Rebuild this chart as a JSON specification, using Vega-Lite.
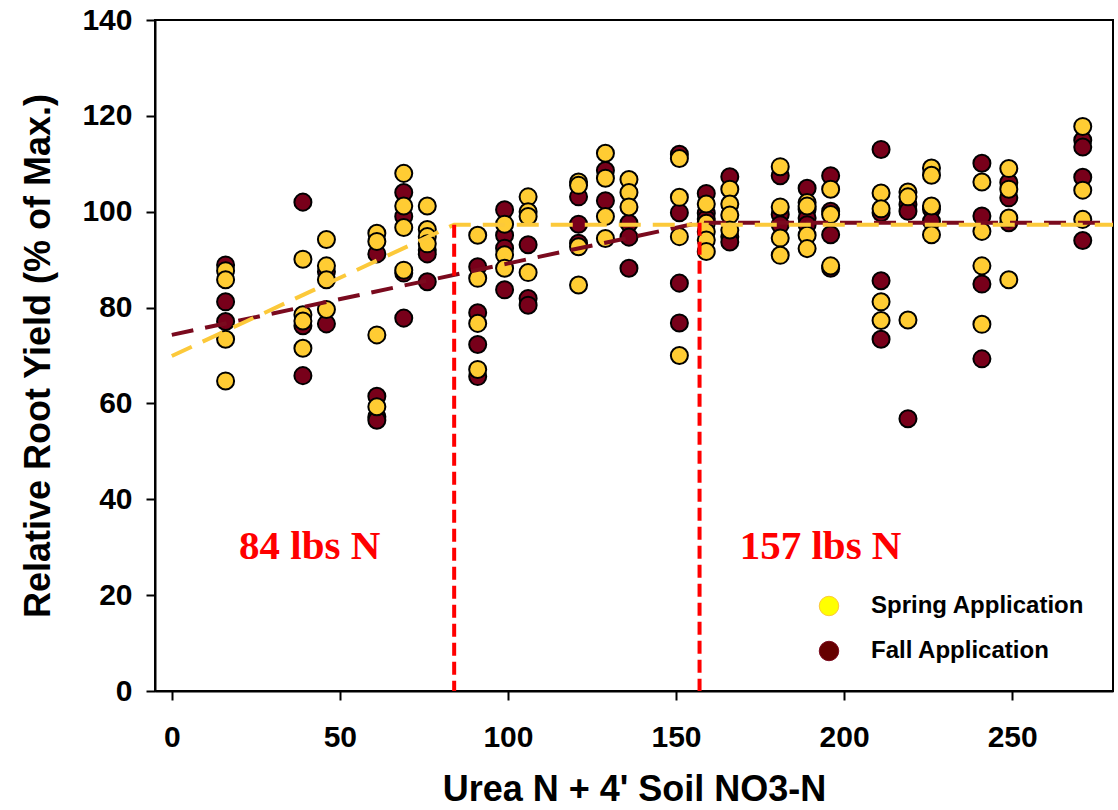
{
  "$schema": "https://vega.github.io/schema/vega-lite/v6.json",
  "width": 958,
  "height": 671,
  "autosize": {"type": "none"},
  "padding": {"left": 155, "top": 20, "right": 5, "bottom": 119},
  "background": "white",
  "datasets": {
    "points": [
      {"n": 16, "yield": 88.9, "app": "Fall Application"},
      {"n": 16, "yield": 81.2, "app": "Fall Application"},
      {"n": 16, "yield": 77.1, "app": "Fall Application"},
      {"n": 39, "yield": 102, "app": "Fall Application"},
      {"n": 39, "yield": 76.2, "app": "Fall Application"},
      {"n": 39, "yield": 65.8, "app": "Fall Application"},
      {"n": 46, "yield": 87.5, "app": "Fall Application"},
      {"n": 46, "yield": 76.6, "app": "Fall Application"},
      {"n": 61, "yield": 91.2, "app": "Fall Application"},
      {"n": 61, "yield": 61.5, "app": "Fall Application"},
      {"n": 61, "yield": 57.2, "app": "Fall Application"},
      {"n": 61, "yield": 56.5, "app": "Fall Application"},
      {"n": 69, "yield": 104, "app": "Fall Application"},
      {"n": 69, "yield": 99, "app": "Fall Application"},
      {"n": 69, "yield": 87.2, "app": "Fall Application"},
      {"n": 69, "yield": 77.8, "app": "Fall Application"},
      {"n": 76, "yield": 92, "app": "Fall Application"},
      {"n": 76, "yield": 91.2, "app": "Fall Application"},
      {"n": 76, "yield": 85.4, "app": "Fall Application"},
      {"n": 91, "yield": 88.5, "app": "Fall Application"},
      {"n": 91, "yield": 78.9, "app": "Fall Application"},
      {"n": 91, "yield": 72.3, "app": "Fall Application"},
      {"n": 91, "yield": 65.6, "app": "Fall Application"},
      {"n": 99, "yield": 100.4, "app": "Fall Application"},
      {"n": 99, "yield": 95.1, "app": "Fall Application"},
      {"n": 99, "yield": 92.4, "app": "Fall Application"},
      {"n": 99, "yield": 83.7, "app": "Fall Application"},
      {"n": 106, "yield": 93.1, "app": "Fall Application"},
      {"n": 106, "yield": 81.9, "app": "Fall Application"},
      {"n": 106, "yield": 80.5, "app": "Fall Application"},
      {"n": 121, "yield": 103.1, "app": "Fall Application"},
      {"n": 121, "yield": 97.4, "app": "Fall Application"},
      {"n": 121, "yield": 93.4, "app": "Fall Application"},
      {"n": 129, "yield": 108.6, "app": "Fall Application"},
      {"n": 129, "yield": 102.3, "app": "Fall Application"},
      {"n": 136, "yield": 97.6, "app": "Fall Application"},
      {"n": 136, "yield": 94.7, "app": "Fall Application"},
      {"n": 136, "yield": 88.2, "app": "Fall Application"},
      {"n": 151, "yield": 112, "app": "Fall Application"},
      {"n": 151, "yield": 99.8, "app": "Fall Application"},
      {"n": 151, "yield": 85.1, "app": "Fall Application"},
      {"n": 151, "yield": 76.8, "app": "Fall Application"},
      {"n": 159, "yield": 103.8, "app": "Fall Application"},
      {"n": 159, "yield": 99.7, "app": "Fall Application"},
      {"n": 159, "yield": 98.5, "app": "Fall Application"},
      {"n": 166, "yield": 107.3, "app": "Fall Application"},
      {"n": 166, "yield": 94.8, "app": "Fall Application"},
      {"n": 166, "yield": 93.7, "app": "Fall Application"},
      {"n": 181, "yield": 107.5, "app": "Fall Application"},
      {"n": 181, "yield": 99.4, "app": "Fall Application"},
      {"n": 181, "yield": 97.3, "app": "Fall Application"},
      {"n": 189, "yield": 104.9, "app": "Fall Application"},
      {"n": 189, "yield": 100.5, "app": "Fall Application"},
      {"n": 189, "yield": 98.7, "app": "Fall Application"},
      {"n": 189, "yield": 97.3, "app": "Fall Application"},
      {"n": 196, "yield": 107.5, "app": "Fall Application"},
      {"n": 196, "yield": 100.1, "app": "Fall Application"},
      {"n": 196, "yield": 95.2, "app": "Fall Application"},
      {"n": 196, "yield": 88.2, "app": "Fall Application"},
      {"n": 211, "yield": 113, "app": "Fall Application"},
      {"n": 211, "yield": 99.8, "app": "Fall Application"},
      {"n": 211, "yield": 85.6, "app": "Fall Application"},
      {"n": 211, "yield": 73.4, "app": "Fall Application"},
      {"n": 219, "yield": 101.5, "app": "Fall Application"},
      {"n": 219, "yield": 100.1, "app": "Fall Application"},
      {"n": 219, "yield": 56.8, "app": "Fall Application"},
      {"n": 226, "yield": 100.5, "app": "Fall Application"},
      {"n": 226, "yield": 98, "app": "Fall Application"},
      {"n": 241, "yield": 110.1, "app": "Fall Application"},
      {"n": 241, "yield": 99.1, "app": "Fall Application"},
      {"n": 241, "yield": 84.9, "app": "Fall Application"},
      {"n": 241, "yield": 69.3, "app": "Fall Application"},
      {"n": 249, "yield": 106.1, "app": "Fall Application"},
      {"n": 249, "yield": 102.9, "app": "Fall Application"},
      {"n": 249, "yield": 97.7, "app": "Fall Application"},
      {"n": 271, "yield": 114.9, "app": "Fall Application"},
      {"n": 271, "yield": 113.5, "app": "Fall Application"},
      {"n": 271, "yield": 107.2, "app": "Fall Application"},
      {"n": 271, "yield": 94, "app": "Fall Application"},
      {"n": 16, "yield": 87.7, "app": "Spring Application"},
      {"n": 16, "yield": 85.8, "app": "Spring Application"},
      {"n": 16, "yield": 73.4, "app": "Spring Application"},
      {"n": 16, "yield": 64.7, "app": "Spring Application"},
      {"n": 39, "yield": 90.1, "app": "Spring Application"},
      {"n": 39, "yield": 78.5, "app": "Spring Application"},
      {"n": 39, "yield": 77.2, "app": "Spring Application"},
      {"n": 39, "yield": 71.5, "app": "Spring Application"},
      {"n": 46, "yield": 94.2, "app": "Spring Application"},
      {"n": 46, "yield": 88.7, "app": "Spring Application"},
      {"n": 46, "yield": 85.8, "app": "Spring Application"},
      {"n": 46, "yield": 79.6, "app": "Spring Application"},
      {"n": 61, "yield": 95.5, "app": "Spring Application"},
      {"n": 61, "yield": 93.8, "app": "Spring Application"},
      {"n": 61, "yield": 74.3, "app": "Spring Application"},
      {"n": 61, "yield": 59.3, "app": "Spring Application"},
      {"n": 69, "yield": 108, "app": "Spring Application"},
      {"n": 69, "yield": 101.2, "app": "Spring Application"},
      {"n": 69, "yield": 96.7, "app": "Spring Application"},
      {"n": 69, "yield": 87.8, "app": "Spring Application"},
      {"n": 76, "yield": 101.2, "app": "Spring Application"},
      {"n": 76, "yield": 96.3, "app": "Spring Application"},
      {"n": 76, "yield": 94.8, "app": "Spring Application"},
      {"n": 76, "yield": 93.3, "app": "Spring Application"},
      {"n": 91, "yield": 95.1, "app": "Spring Application"},
      {"n": 91, "yield": 86.1, "app": "Spring Application"},
      {"n": 91, "yield": 76.7, "app": "Spring Application"},
      {"n": 91, "yield": 67.1, "app": "Spring Application"},
      {"n": 99, "yield": 97.4, "app": "Spring Application"},
      {"n": 99, "yield": 91, "app": "Spring Application"},
      {"n": 99, "yield": 88.2, "app": "Spring Application"},
      {"n": 106, "yield": 103.1, "app": "Spring Application"},
      {"n": 106, "yield": 100, "app": "Spring Application"},
      {"n": 106, "yield": 99, "app": "Spring Application"},
      {"n": 106, "yield": 87.3, "app": "Spring Application"},
      {"n": 121, "yield": 106.2, "app": "Spring Application"},
      {"n": 121, "yield": 105.5, "app": "Spring Application"},
      {"n": 121, "yield": 92.7, "app": "Spring Application"},
      {"n": 121, "yield": 84.7, "app": "Spring Application"},
      {"n": 129, "yield": 112.2, "app": "Spring Application"},
      {"n": 129, "yield": 107, "app": "Spring Application"},
      {"n": 129, "yield": 99, "app": "Spring Application"},
      {"n": 129, "yield": 94.4, "app": "Spring Application"},
      {"n": 136, "yield": 106.7, "app": "Spring Application"},
      {"n": 136, "yield": 104, "app": "Spring Application"},
      {"n": 136, "yield": 101, "app": "Spring Application"},
      {"n": 151, "yield": 111.1, "app": "Spring Application"},
      {"n": 151, "yield": 103, "app": "Spring Application"},
      {"n": 151, "yield": 94.8, "app": "Spring Application"},
      {"n": 151, "yield": 70, "app": "Spring Application"},
      {"n": 159, "yield": 101.6, "app": "Spring Application"},
      {"n": 159, "yield": 97.6, "app": "Spring Application"},
      {"n": 159, "yield": 95.8, "app": "Spring Application"},
      {"n": 159, "yield": 94.1, "app": "Spring Application"},
      {"n": 159, "yield": 91.7, "app": "Spring Application"},
      {"n": 166, "yield": 104.7, "app": "Spring Application"},
      {"n": 166, "yield": 101.6, "app": "Spring Application"},
      {"n": 166, "yield": 99.3, "app": "Spring Application"},
      {"n": 166, "yield": 96.2, "app": "Spring Application"},
      {"n": 181, "yield": 109.4, "app": "Spring Application"},
      {"n": 181, "yield": 101, "app": "Spring Application"},
      {"n": 181, "yield": 94.5, "app": "Spring Application"},
      {"n": 181, "yield": 90.9, "app": "Spring Application"},
      {"n": 189, "yield": 101.9, "app": "Spring Application"},
      {"n": 189, "yield": 101.2, "app": "Spring Application"},
      {"n": 189, "yield": 95.1, "app": "Spring Application"},
      {"n": 189, "yield": 92.3, "app": "Spring Application"},
      {"n": 196, "yield": 104.7, "app": "Spring Application"},
      {"n": 196, "yield": 99.4, "app": "Spring Application"},
      {"n": 196, "yield": 88.7, "app": "Spring Application"},
      {"n": 211, "yield": 103.9, "app": "Spring Application"},
      {"n": 211, "yield": 100.6, "app": "Spring Application"},
      {"n": 211, "yield": 81.2, "app": "Spring Application"},
      {"n": 211, "yield": 77.3, "app": "Spring Application"},
      {"n": 219, "yield": 104.1, "app": "Spring Application"},
      {"n": 219, "yield": 103.1, "app": "Spring Application"},
      {"n": 219, "yield": 77.4, "app": "Spring Application"},
      {"n": 226, "yield": 109.1, "app": "Spring Application"},
      {"n": 226, "yield": 107.6, "app": "Spring Application"},
      {"n": 226, "yield": 101.2, "app": "Spring Application"},
      {"n": 226, "yield": 95.2, "app": "Spring Application"},
      {"n": 241, "yield": 106.2, "app": "Spring Application"},
      {"n": 241, "yield": 95.9, "app": "Spring Application"},
      {"n": 241, "yield": 88.7, "app": "Spring Application"},
      {"n": 241, "yield": 76.5, "app": "Spring Application"},
      {"n": 249, "yield": 109, "app": "Spring Application"},
      {"n": 249, "yield": 104.7, "app": "Spring Application"},
      {"n": 249, "yield": 98.7, "app": "Spring Application"},
      {"n": 249, "yield": 85.8, "app": "Spring Application"},
      {"n": 271, "yield": 117.8, "app": "Spring Application"},
      {"n": 271, "yield": 104.5, "app": "Spring Application"},
      {"n": 271, "yield": 98.4, "app": "Spring Application"}
    ],
    "fits": [
      {"n": 0, "yield": 74.3, "app": "Fall Application"},
      {"n": 157, "yield": 97.7, "app": "Fall Application"},
      {"n": 280, "yield": 97.7, "app": "Fall Application"},
      {"n": 0, "yield": 69.9, "app": "Spring Application"},
      {"n": 84, "yield": 97.3, "app": "Spring Application"},
      {"n": 280, "yield": 97.3, "app": "Spring Application"}
    ],
    "thresholds": [
      {"n": 84, "top": 97.3},
      {"n": 157, "top": 97.7}
    ],
    "notes": [
      {"n": 41, "yield": 27.5, "label": "84 lbs N"},
      {"n": 193, "yield": 27.5, "label": "157 lbs N"}
    ]
  },
  "layer": [
    {
      "data": {"name": "points"},
      "mark": {"type": "point", "shape": "circle", "filled": true, "stroke": "black", "strokeWidth": 1, "opacity": 0},
      "encoding": {
        "x": {"field": "n", "type": "quantitative", "scale": {"domain": [-5, 280], "nice": false, "zero": false},
          "axis": {"values": [0, 50, 100, 150, 200, 250], "title": "Urea N + 4' Soil NO3-N", "labelPadding": 22, "titlePadding": 20, "labelFlush": false}},
        "y": {"field": "yield", "type": "quantitative", "scale": {"domain": [0, 140], "nice": false},
          "axis": {"values": [0, 20, 40, 60, 80, 100, 120, 140], "title": "Relative Root Yield (% of Max.)", "labelPadding": 14, "titlePadding": 24, "labelFlush": false}},
        "fill": {"field": "app", "type": "nominal",
          "scale": {"domain": ["Spring Application", "Fall Application"], "range": ["#FFFF00", "#660000"]},
          "legend": {"title": null, "orient": "none", "legendX": 662, "legendY": 574, "padding": 0,
            "symbolType": "circle", "symbolSize": 380, "symbolStrokeColor": "black", "symbolStrokeWidth": 1, "symbolOpacity": 1,
            "labelFont": "Liberation Sans", "labelFontWeight": "bold", "labelFontSize": 24, "labelColor": "black",
            "labelLimit": 0, "labelOffset": 30, "rowPadding": 21}}
      }
    },
    {
      "data": {"name": "points"},
      "mark": {"type": "point", "shape": "circle", "filled": true, "stroke": "black", "strokeWidth": 2, "size": 290, "opacity": 1},
      "encoding": {
        "x": {"field": "n", "type": "quantitative"},
        "y": {"field": "yield", "type": "quantitative"},
        "color": {"field": "app", "type": "nominal",
          "scale": {"domain": ["Spring Application", "Fall Application"], "range": ["#FFCC33", "#78001A"]},
          "legend": null}
      }
    },
    {
      "data": {"name": "fits"},
      "mark": {"type": "line", "strokeWidth": 4, "strokeDash": [22, 12], "clip": true},
      "encoding": {
        "x": {"field": "n", "type": "quantitative"},
        "y": {"field": "yield", "type": "quantitative"},
        "stroke": {"field": "app", "type": "nominal",
          "scale": {"domain": ["Spring Application", "Fall Application"], "range": ["#FCC93A", "#7A0A1E"]},
          "legend": null}
      }
    },
    {
      "data": {"name": "thresholds"},
      "mark": {"type": "rule", "color": "#FF0000", "strokeWidth": 4, "strokeDash": [13, 6]},
      "encoding": {
        "x": {"field": "n", "type": "quantitative"},
        "y": {"field": "top", "type": "quantitative"},
        "y2": {"datum": 0}
      }
    },
    {
      "data": {"name": "notes"},
      "mark": {"type": "text", "font": "Liberation Serif", "fontWeight": "bold", "fontSize": 41, "fill": "#FF0000", "align": "center", "baseline": "alphabetic"},
      "encoding": {
        "x": {"field": "n", "type": "quantitative"},
        "y": {"field": "yield", "type": "quantitative"},
        "text": {"field": "label"}
      }
    }
  ],
  "config": {
    "view": {"stroke": "black", "strokeWidth": 2},
    "axis": {
      "grid": false,
      "domainColor": "black", "domainWidth": 2,
      "tickColor": "black", "tickWidth": 2, "tickSize": 9,
      "labelFont": "Liberation Sans", "labelFontWeight": "bold", "labelFontSize": 30, "labelColor": "black",
      "titleFont": "Liberation Sans", "titleFontWeight": "bold", "titleFontSize": 36, "titleColor": "black"
    }
  }
}
